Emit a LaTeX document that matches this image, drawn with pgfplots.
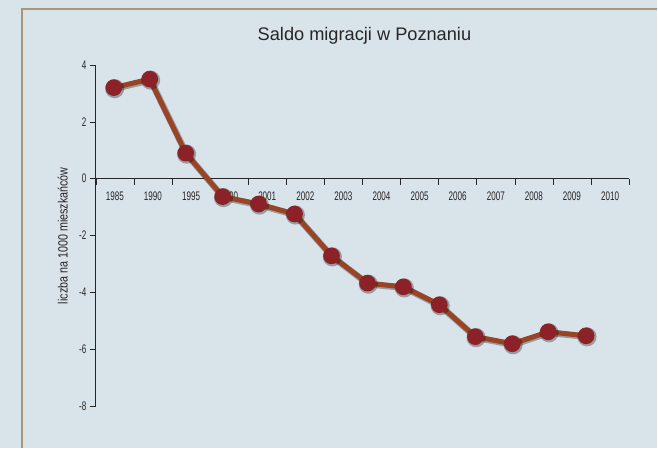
\documentclass[border=0pt]{standalone}
\usepackage{fontspec}
\setmainfont{Liberation Sans}[FakeStretch=0.8]
\newfontfamily\titlefont{Liberation Sans}
\newfontfamily\tickfont{Liberation Sans}[FakeStretch=0.65]
\usepackage{pgfplots}
\pgfplotsset{compat=1.18}
\definecolor{bg}{HTML}{D9E3EA}
\definecolor{framec}{HTML}{A8957A}
\definecolor{linec}{HTML}{9A4426}
\definecolor{markc}{HTML}{8C2228}
\begin{document}
\begin{tikzpicture}[x=1bp,y=1bp]
\fill[bg] (0,0) rectangle (658,449);
\draw[framec, line width=2bp] (22,0) -- (22,440) -- (658,440);
\node[font=\titlefont\fontsize{18.3}{21}\selectfont, text=black!85] at (365,413) {Saldo migracji w Poznaniu};
\begin{axis}[at={(96bp,42bp)}, anchor=south west, scale only axis,
  width=534bp, height=342bp,
  xmin=0, xmax=14, ymin=-8, ymax=4,
  axis x line=middle, axis y line=left,
  axis line style={-, line width=0.8pt, black!85},
  hide obscured x ticks=false, hide obscured y ticks=false,
  xtick={0.5,1.5,2.5,3.5,4.5,5.5,6.5,7.5,8.5,9.5,10.5,11.5,12.5,13.5},
  xticklabels={1985,1990,1995,2000,2001,2002,2003,2004,2005,2006,2007,2008,2009,2010},
  major x tick style={draw=none},
  minor xtick={0,1,...,14},
  minor x tick style={black!85, line width=0.6pt},
  minor tick length=6bp,
  ytick={-8,-6,-4,-2,0,2,4},
  y tick style={black!85, line width=0.6pt},
  major tick length=6bp,
  tick align=outside,
  /pgf/number format/assume math mode=true,
  tick label style={font=\tickfont\fontsize{12.5}{14}\selectfont, text=black!85},
  xticklabel style={yshift=-4bp},
  ylabel={liczba na 1000 mieszkańców},
  ylabel style={at={(axis description cs:-0.062,0.5)}, anchor=center, font=\fontsize{13.5}{15}\selectfont, text=black!85},
  clip=false,
]
\addplot[black, opacity=0.3, line width=6.5bp, mark=*, mark size=6.3bp,
  mark options={fill=black, draw=black}, xshift=0.8bp, yshift=-1bp] coordinates {
(0.472,3.2) (1.416,3.5) (2.360,0.9) (3.330,-0.63) (4.274,-0.89) (5.218,-1.24) (6.188,-2.71)
(7.132,-3.67) (8.076,-3.8) (9.020,-4.43) (9.964,-5.55) (10.934,-5.8) (11.878,-5.38) (12.874,-5.52)
};
\addplot[linec, line width=5bp, mark=*, mark size=5.8bp,
  mark options={fill=markc, draw=markc}] coordinates {
(0.472,3.2) (1.416,3.5) (2.360,0.9) (3.330,-0.63) (4.274,-0.89) (5.218,-1.24) (6.188,-2.71)
(7.132,-3.67) (8.076,-3.8) (9.020,-4.43) (9.964,-5.55) (10.934,-5.8) (11.878,-5.38) (12.874,-5.52)
};
\end{axis}
\end{tikzpicture}
\end{document}
